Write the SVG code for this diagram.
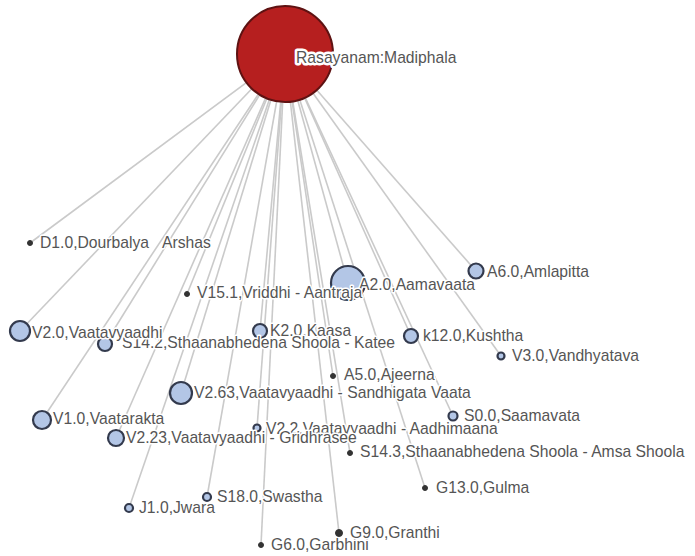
<svg xmlns="http://www.w3.org/2000/svg" width="695" height="556" viewBox="0 0 695 556">
<style>
.link{stroke:#cacaca;stroke-width:1.6;fill:none}
.node circle{fill:#b3c6e6;stroke:#333a4d;stroke-width:2.2}
.node.dot circle{fill:#333;stroke:#333;stroke-width:1}
.root circle{fill:#b61f1f;stroke:#5e1212;stroke-width:2}
text{font-family:"Liberation Sans",Arial,sans-serif;font-size:15.7px;fill:#555;stroke:#fff;stroke-width:3;stroke-linejoin:round;paint-order:stroke}
.root text{stroke-width:5}
</style>
<rect width="695" height="556" fill="#fff"/>
<g id="links">
<line class="link" x1="285" y1="54" x2="30" y2="243"/>
<line class="link" x1="285" y1="54" x2="187" y2="294"/>
<line class="link" x1="285" y1="54" x2="348" y2="283"/>
<line class="link" x1="285" y1="54" x2="476" y2="271"/>
<line class="link" x1="285" y1="54" x2="20" y2="331"/>
<line class="link" x1="285" y1="54" x2="105" y2="344"/>
<line class="link" x1="285" y1="54" x2="260" y2="331"/>
<line class="link" x1="285" y1="54" x2="411" y2="336"/>
<line class="link" x1="285" y1="54" x2="501" y2="356"/>
<line class="link" x1="285" y1="54" x2="333" y2="376"/>
<line class="link" x1="285" y1="54" x2="181" y2="393"/>
<line class="link" x1="285" y1="54" x2="453" y2="416"/>
<line class="link" x1="285" y1="54" x2="42" y2="420"/>
<line class="link" x1="285" y1="54" x2="257" y2="428"/>
<line class="link" x1="285" y1="54" x2="116" y2="438"/>
<line class="link" x1="285" y1="54" x2="350" y2="453"/>
<line class="link" x1="285" y1="54" x2="425" y2="488"/>
<line class="link" x1="285" y1="54" x2="207" y2="497"/>
<line class="link" x1="285" y1="54" x2="129" y2="508"/>
<line class="link" x1="285" y1="54" x2="339" y2="533"/>
<line class="link" x1="285" y1="54" x2="261" y2="545"/>
</g>
<g id="n-root" class="root"><circle cx="285" cy="54" r="48"/><text x="296" y="63">Rasayanam:Madiphala</text></g>
<g id="n-a2" class="node"><circle cx="348" cy="283" r="17"/><text x="359" y="290">A2.0,Aamavaata</text></g>
<g id="n-arshas" class="node"><text x="162" y="248">Arshas</text></g>
<g id="n-d1" class="node dot"><circle cx="30" cy="243" r="2.5"/><text x="40" y="248">D1.0,Dourbalya</text></g>
<g id="n-v15" class="node dot"><circle cx="187" cy="294" r="2.5"/><text x="197" y="298">V15.1,Vriddhi - Aantraja</text></g>
<g id="n-a6" class="node"><circle cx="476" cy="271" r="7.5"/><text x="487" y="277">A6.0,Amlapitta</text></g>
<g id="n-k2" class="node"><circle cx="260" cy="331" r="7"/><text x="270" y="336">K2.0,Kaasa</text></g>
<g id="n-s142" class="node"><circle cx="105" cy="344" r="7"/><text x="122" y="348">S14.2,Sthaanabhedena Shoola - Katee</text></g>
<g id="n-v2" class="node"><circle cx="20" cy="331" r="10"/><text x="32" y="338">V2.0,Vaatavyaadhi</text></g>
<g id="n-k12" class="node"><circle cx="411" cy="336" r="7"/><text x="423" y="341">k12.0,Kushtha</text></g>
<g id="n-v3" class="node"><circle cx="501" cy="356" r="3.5"/><text x="512" y="361">V3.0,Vandhyatava</text></g>
<g id="n-a5" class="node dot"><circle cx="333" cy="376" r="2.5"/><text x="344" y="380">A5.0,Ajeerna</text></g>
<g id="n-v263" class="node"><circle cx="181" cy="393" r="11"/><text x="194" y="398">V2.63,Vaatavyaadhi - Sandhigata Vaata</text></g>
<g id="n-v1" class="node"><circle cx="42" cy="420" r="9"/><text x="53" y="424">V1.0,Vaatarakta</text></g>
<g id="n-v22" class="node"><circle cx="257" cy="428" r="3.5"/><text x="266" y="434">V2.2,Vaatavyaadhi - Aadhimaana</text></g>
<g id="n-v223" class="node"><circle cx="116" cy="438" r="8"/><text x="126" y="443">V2.23,Vaatavyaadhi - Gridhrasee</text></g>
<g id="n-s0" class="node"><circle cx="453" cy="416" r="4.5"/><text x="464" y="421">S0.0,Saamavata</text></g>
<g id="n-s143" class="node dot"><circle cx="350" cy="453" r="2.5"/><text x="360" y="457">S14.3,Sthaanabhedena Shoola - Amsa Shoola</text></g>
<g id="n-g13" class="node dot"><circle cx="425" cy="488" r="2.5"/><text x="436" y="493">G13.0,Gulma</text></g>
<g id="n-s18" class="node"><circle cx="207" cy="497" r="4"/><text x="217" y="502">S18.0,Swastha</text></g>
<g id="n-j1" class="node"><circle cx="129" cy="508" r="4"/><text x="139" y="513">J1.0,Jwara</text></g>
<g id="n-g6" class="node dot"><circle cx="261" cy="545" r="2.5"/><text x="271" y="550">G6.0,Garbhini</text></g>
<g id="n-g9" class="node dot"><circle cx="339" cy="533" r="3.5"/><text x="350" y="538">G9.0,Granthi</text></g>
</svg>
